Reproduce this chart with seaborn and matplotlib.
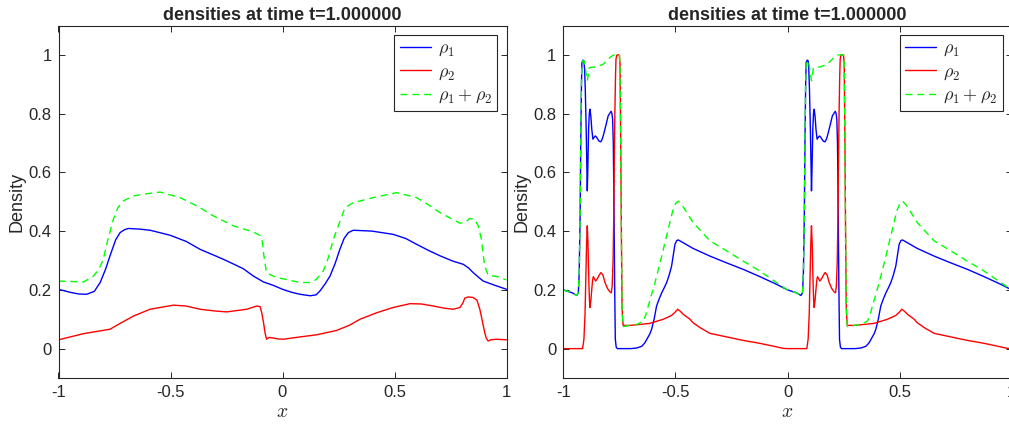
import matplotlib
matplotlib.use("Agg")
import pandas as pd
import seaborn as sns
import matplotlib.pyplot as plt

# ---- data ----
title = "densities at time t=1.000000"
labels = [r"$\rho_1$", r"$\rho_2$", r"$\rho_1+\rho_2$"]
xticks = [-1, -0.5, 0, 0.5, 1]
xtick_labels = ["-1", "-0.5", "0", "0.5", "1"]
yticks = [0, 0.2, 0.4, 0.6, 0.8, 1]
ytick_labels = ["0", "0.2", "0.4", "0.6", "0.8", "1"]

# left panel
left_x_rho1 = [-1, -0.95, -0.91, -0.874, -0.84, -0.814, -0.79, -0.77, -0.745, -0.725, -0.705, -0.688,
               -0.64, -0.591, -0.502, -0.43, -0.368, -0.30, -0.249, -0.175, -0.13, -0.085,
               -0.04, 0, 0.04, 0.078, 0.123, 0.15, 0.167, 0.19, 0.212, 0.235,
               0.256, 0.275, 0.294, 0.316, 0.40, 0.494, 0.55, 0.599, 0.65, 0.703,
               0.76, 0.807, 0.83, 0.851, 0.875, 0.896, 0.95, 1]
left_rho1 = [0.202, 0.192, 0.186, 0.185, 0.195, 0.225, 0.27, 0.316, 0.37, 0.395, 0.405, 0.409,
             0.407, 0.403, 0.386, 0.365, 0.338, 0.316, 0.299, 0.272, 0.247, 0.227,
             0.215, 0.202, 0.192, 0.185, 0.18, 0.183, 0.196, 0.22, 0.247, 0.29,
             0.338, 0.375, 0.395, 0.403, 0.400, 0.389, 0.375, 0.355, 0.335, 0.316,
             0.298, 0.287, 0.275, 0.259, 0.243, 0.23, 0.215, 0.202]

left_x_rho2 = [-1, -0.888, -0.77, -0.72, -0.665, -0.591, -0.487, -0.43, -0.368, -0.30, -0.249, -0.16, -0.115,
               -0.1, -0.093, -0.085, -0.078, -0.071, -0.06, -0.048, -0.02, 0.004, 0.08, 0.152, 0.242, 0.30, 0.346,
               0.42, 0.494, 0.569, 0.62, 0.673, 0.72, 0.762, 0.792, 0.805, 0.814, 0.83, 0.851, 0.868, 0.881,
               0.893, 0.903, 0.91, 0.918, 0.93, 0.955, 1]
left_rho2 = [0.03, 0.051, 0.066, 0.088, 0.111, 0.134, 0.148, 0.145, 0.134, 0.128, 0.125, 0.134, 0.145,
             0.143, 0.123, 0.09, 0.054, 0.032, 0.038, 0.037, 0.033, 0.032, 0.04, 0.047, 0.062, 0.08, 0.1,
             0.122, 0.14, 0.153, 0.152, 0.145, 0.138, 0.134, 0.14, 0.155, 0.172, 0.176, 0.174, 0.165, 0.134,
             0.09, 0.054, 0.035, 0.026, 0.03, 0.032, 0.03]

left_x_sum = [-1, -0.888, -0.844, -0.82, -0.8, -0.78, -0.755, -0.735, -0.71, -0.665, -0.6, -0.546, -0.457,
              -0.38, -0.309, -0.219, -0.13, -0.1, -0.09, -0.085, -0.078, -0.071, -0.05, -0.026, 0.02, 0.078,
              0.123, 0.15, 0.182, 0.205, 0.227, 0.255, 0.279, 0.316, 0.405, 0.509, 0.599, 0.65, 0.703, 0.792,
              0.815, 0.836, 0.858, 0.874, 0.888, 0.896, 0.903, 0.918, 0.96, 1]
left_sum = [0.23, 0.227, 0.247, 0.27, 0.304, 0.37, 0.44, 0.48, 0.503, 0.52, 0.528, 0.533, 0.514,
            0.485, 0.452, 0.418, 0.397, 0.385, 0.365, 0.327, 0.29, 0.259, 0.25, 0.242, 0.235, 0.225,
            0.225, 0.235, 0.264, 0.31, 0.372, 0.43, 0.48, 0.497, 0.514, 0.531, 0.514, 0.49, 0.463, 0.427,
            0.43, 0.443, 0.44, 0.418, 0.372, 0.32, 0.281, 0.25, 0.245, 0.234]

# right panel
right_x_rho1 = [-1, -0.96, -0.94, -0.933, -0.929, -0.925, -0.922, -0.919, -0.917, -0.912, -0.908, -0.905,
                -0.902, -0.898, -0.895, -0.893, -0.891, -0.889, -0.887, -0.884, -0.881, -0.877, -0.873,
                -0.868, -0.862, -0.857, -0.852, -0.848, -0.84, -0.833, -0.827, -0.822, -0.81, -0.8, -0.787,
                -0.783, -0.78, -0.777, -0.774, -0.771, -0.768, -0.764, -0.759,
                -0.7, -0.673, -0.65, -0.636, -0.625, -0.614, -0.606, -0.595, -0.584, -0.572,
                -0.561, -0.55, -0.539, -0.528, -0.517, -0.508, -0.502, -0.494, -0.487, -0.46,
                -0.435, -0.421, -0.346, -0.272, -0.198, -0.123, -0.049,
                0, 0.04, 0.06, 0.067, 0.071, 0.075, 0.078, 0.081, 0.083, 0.088, 0.092, 0.095,
                0.098, 0.102, 0.105, 0.107, 0.109, 0.111, 0.113, 0.116, 0.119, 0.123, 0.127,
                0.132, 0.138, 0.143, 0.148, 0.152, 0.16, 0.167, 0.173, 0.178, 0.19, 0.2, 0.213,
                0.217, 0.22, 0.223, 0.226, 0.229, 0.232, 0.236, 0.241,
                0.3, 0.327, 0.35, 0.364, 0.375, 0.386, 0.394, 0.405, 0.416, 0.428,
                0.439, 0.45, 0.461, 0.472, 0.483, 0.492, 0.498, 0.506, 0.513, 0.54,
                0.565, 0.579, 0.654, 0.728, 0.802, 0.877, 0.951, 1.0]
right_rho1 = [0.2, 0.19, 0.181, 0.19, 0.259, 0.45, 0.713, 0.9, 0.974, 0.982, 0.98, 0.95,
              0.883, 0.75, 0.62, 0.537, 0.6, 0.68, 0.75, 0.8, 0.815, 0.79, 0.747,
              0.713, 0.72, 0.724, 0.72, 0.715, 0.706, 0.704, 0.712, 0.724, 0.76, 0.792, 0.808,
              0.8, 0.781, 0.7, 0.486, 0.22, 0.032, 0.005, 0.0,
              0.0, 0.002, 0.008, 0.02, 0.035, 0.05, 0.066, 0.1, 0.145, 0.17,
              0.19, 0.207, 0.225, 0.25, 0.281, 0.325, 0.355, 0.368, 0.37, 0.358,
              0.347, 0.341, 0.315, 0.292, 0.27, 0.245, 0.219,
              0.2, 0.19, 0.181, 0.19, 0.259, 0.45, 0.713, 0.9, 0.974, 0.982, 0.98, 0.95,
              0.883, 0.75, 0.62, 0.537, 0.6, 0.68, 0.75, 0.8, 0.815, 0.79, 0.747,
              0.713, 0.72, 0.724, 0.72, 0.715, 0.706, 0.704, 0.712, 0.724, 0.76, 0.792, 0.808,
              0.8, 0.781, 0.7, 0.486, 0.22, 0.032, 0.005, 0.0,
              0.0, 0.002, 0.008, 0.02, 0.035, 0.05, 0.066, 0.1, 0.145, 0.17,
              0.19, 0.207, 0.225, 0.25, 0.281, 0.325, 0.355, 0.368, 0.37, 0.358,
              0.347, 0.341, 0.315, 0.292, 0.27, 0.245, 0.219, 0.2]

right_x_rho2 = [-1, -0.93, -0.914, -0.908, -0.903, -0.899, -0.896, -0.893, -0.89, -0.887, -0.885,
                -0.883, -0.881, -0.877, -0.873, -0.869, -0.866, -0.861, -0.856, -0.848, -0.84, -0.832,
                -0.823, -0.814, -0.803, -0.792, -0.786, -0.782, -0.778, -0.775, -0.773, -0.77, -0.767,
                -0.765, -0.762, -0.759, -0.754, -0.75, -0.747, -0.744, -0.741, -0.738, -0.735, -0.733,
                -0.703, -0.65, -0.614, -0.554, -0.517, -0.5, -0.49, -0.478, -0.465, -0.435, -0.421,
                -0.391, -0.346, -0.272, -0.198, -0.123, -0.049, -0.02,
                0, 0.07, 0.086, 0.092, 0.097, 0.101, 0.104, 0.107, 0.11, 0.113, 0.115,
                0.117, 0.119, 0.123, 0.127, 0.131, 0.134, 0.139, 0.144, 0.152, 0.16, 0.168,
                0.177, 0.186, 0.197, 0.208, 0.214, 0.218, 0.222, 0.225, 0.227, 0.23, 0.233,
                0.235, 0.238, 0.241, 0.246, 0.25, 0.253, 0.256, 0.259, 0.262, 0.265, 0.267,
                0.297, 0.35, 0.386, 0.446, 0.483, 0.5, 0.51, 0.522, 0.535, 0.565, 0.579,
                0.609, 0.654, 0.728, 0.802, 0.877, 0.951, 0.98, 1.0]
right_rho2 = [0.0, 0.0, 0.0, 0.032, 0.12, 0.259, 0.36, 0.418, 0.36, 0.259, 0.2,
              0.16, 0.14, 0.165, 0.202, 0.235, 0.245, 0.238, 0.23, 0.238, 0.25, 0.259,
              0.25, 0.225, 0.205, 0.193, 0.19, 0.213, 0.3, 0.45, 0.6, 0.8, 0.93,
              0.985, 0.998, 1.0, 1.0, 0.999, 0.97, 0.713, 0.4, 0.145, 0.095, 0.079,
              0.079, 0.083, 0.086, 0.1, 0.113, 0.125, 0.134, 0.127, 0.117, 0.1, 0.088,
              0.072, 0.052, 0.04, 0.028, 0.018, 0.006, 0.001,
              0.0, 0.0, 0.0, 0.032, 0.12, 0.259, 0.36, 0.418, 0.36, 0.259, 0.2,
              0.16, 0.14, 0.165, 0.202, 0.235, 0.245, 0.238, 0.23, 0.238, 0.25, 0.259,
              0.25, 0.225, 0.205, 0.193, 0.19, 0.213, 0.3, 0.45, 0.6, 0.8, 0.93,
              0.985, 0.998, 1.0, 1.0, 0.999, 0.97, 0.713, 0.4, 0.145, 0.095, 0.079,
              0.079, 0.083, 0.086, 0.1, 0.113, 0.125, 0.134, 0.127, 0.117, 0.1, 0.088,
              0.072, 0.052, 0.04, 0.028, 0.018, 0.006, 0.001, 0.0]

right_x_sum = [-1, -0.96, -0.94, -0.933, -0.929, -0.925, -0.922, -0.919, -0.917, -0.912, -0.908, -0.903,
               -0.899, -0.896, -0.893, -0.889, -0.885, -0.881, -0.875, -0.865, -0.851, -0.84, -0.822,
               -0.81, -0.792, -0.78, -0.77, -0.76, -0.75, -0.747, -0.744, -0.741, -0.738, -0.735, -0.733,
               -0.703, -0.67, -0.643, -0.632, -0.621, -0.606, -0.591, -0.576, -0.561, -0.547, -0.532,
               -0.52, -0.51, -0.498, -0.487, -0.472, -0.458, -0.421, -0.346, -0.272, -0.198, -0.123, -0.049,
               0, 0.04, 0.06, 0.067, 0.071, 0.075, 0.078, 0.081, 0.083, 0.088, 0.092, 0.097,
               0.101, 0.104, 0.107, 0.111, 0.115, 0.119, 0.125, 0.135, 0.149, 0.16, 0.178,
               0.19, 0.208, 0.22, 0.23, 0.24, 0.25, 0.253, 0.256, 0.259, 0.262, 0.265, 0.267,
               0.297, 0.33, 0.357, 0.368, 0.379, 0.394, 0.409, 0.424, 0.439, 0.453, 0.468,
               0.48, 0.49, 0.502, 0.513, 0.528, 0.542, 0.579, 0.654, 0.728, 0.802, 0.877, 0.951, 1.0]
right_sum = [0.2, 0.19, 0.181, 0.19, 0.259, 0.45, 0.713, 0.9, 0.974, 0.98, 0.98, 0.965,
             0.94, 0.925, 0.912, 0.93, 0.955, 0.957, 0.958, 0.958, 0.96, 0.963, 0.968,
             0.978, 0.991, 0.998, 1.0, 1.0, 1.0, 0.97, 0.713, 0.4, 0.145, 0.095, 0.075,
             0.079, 0.083, 0.094, 0.115, 0.145, 0.185, 0.225, 0.27, 0.315, 0.36, 0.406,
             0.445, 0.474, 0.495, 0.502, 0.49, 0.474, 0.429, 0.367, 0.333, 0.298, 0.264, 0.225,
             0.2, 0.19, 0.181, 0.19, 0.259, 0.45, 0.713, 0.9, 0.974, 0.98, 0.98, 0.965,
             0.94, 0.925, 0.912, 0.93, 0.955, 0.957, 0.958, 0.958, 0.96, 0.963, 0.968,
             0.978, 0.991, 0.998, 1.0, 1.0, 1.0, 0.97, 0.713, 0.4, 0.145, 0.095, 0.075,
             0.079, 0.083, 0.094, 0.115, 0.145, 0.185, 0.225, 0.27, 0.315, 0.36, 0.406,
             0.445, 0.474, 0.495, 0.502, 0.49, 0.474, 0.429, 0.367, 0.333, 0.298, 0.264, 0.225, 0.2]

# ---- style ----
sns.set_style("ticks")
plt.rcParams['font.family'] = ['Liberation Sans', 'DejaVu Sans']
plt.rcParams['mathtext.fontset'] = 'cm'
plt.rcParams['axes.unicode_minus'] = False

dark = "#262626"
colors = ["#0000ff", "#ff0000", "#00ff00"]
styles = ["-", "-", (0, (5, 3.5))]

fig = plt.figure(figsize=(10.09, 4.28), dpi=100)
ax_left = fig.add_axes([58.5 / 1009, 50 / 428, 448 / 1009, 352.5 / 428])
ax_right = fig.add_axes([563.3 / 1009, 50 / 428, 448.4 / 1009, 352.5 / 428])

panels = [
    (ax_left, [(left_x_rho1, left_rho1), (left_x_rho2, left_rho2), (left_x_sum, left_sum)]),
    (ax_right, [(right_x_rho1, right_rho1), (right_x_rho2, right_rho2), (right_x_sum, right_sum)]),
]

for ax, series in panels:
    for (xs, ys), lab, col, ls in zip(series, labels, colors, styles):
        df = pd.DataFrame({"x": xs, "y": ys})
        sns.lineplot(data=df, x="x", y="y", ax=ax, color=col, linewidth=1.0,
                     linestyle=ls, label=lab, sort=False, estimator=None)

    ax.set_xlim(-1, 1)
    ax.set_ylim(-0.1, 1.1)
    ax.set_xticks(xticks)
    ax.set_xticklabels(xtick_labels)
    ax.set_yticks(yticks)
    ax.set_yticklabels(ytick_labels)
    ax.tick_params(direction="in", length=4, width=0.7, colors=dark, labelsize=12,
                   top=True, right=True, pad=5)
    for sp in ax.spines.values():
        sp.set_visible(True)
        sp.set_color(dark)
        sp.set_linewidth(0.8)
    ax.set_title(title, fontsize=13, fontweight="bold", pad=4)
    ax.set_xlabel("$x$", fontsize=14, labelpad=3, color=dark)
    ax.set_ylabel("Density", fontsize=13, labelpad=2, color=dark)
    leg = ax.legend(loc="upper right", fontsize=13, fancybox=False, framealpha=1,
                    edgecolor=dark, handlelength=1.7, borderaxespad=0.5,
                    labelspacing=0.3, borderpad=0.3, handletextpad=0.4)
    leg.get_frame().set_linewidth(0.8)

fig.savefig("out.png", dpi=100)
